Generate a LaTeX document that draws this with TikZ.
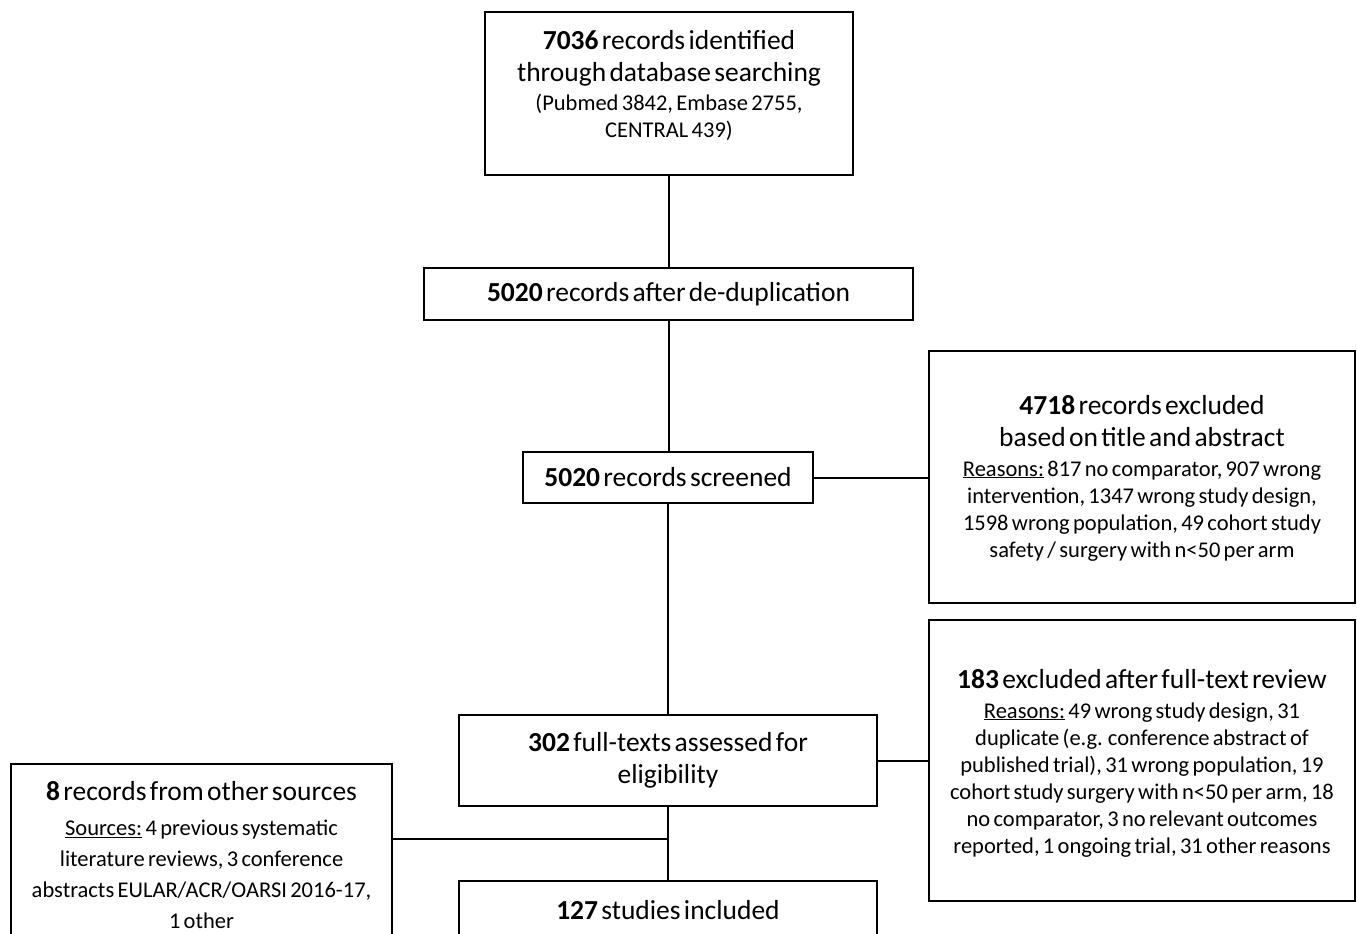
\documentclass[tikz,border=0pt]{standalone}
\usepackage{fontspec}
\setmainfont{Carlito}
\newcommand\pbig{\fontsize{27.5}{32}\selectfont}
\newcommand\psmall{\fontsize{22.5}{27}\selectfont}
\newcommand\psmallw{\fontsize{22.5}{31}\selectfont}
\begin{document}
\begin{tikzpicture}[x=1pt,y=-1pt]
\tikzset{
  box/.style={draw, line width=2pt, inner sep=0pt, align=center, fill=white},
  conn/.style={draw, line width=2pt}
}
\useasboundingbox (0,0) rectangle (1357,934);
\begin{scope}
\clip (0,0) rectangle (1357,934);
\node[box, minimum width=368pt, minimum height=163pt, text width=364pt, text depth=108pt] (top) at (669,93.5)
  {{\pbig\textbf{7036} records identified\\through database searching\par}\vspace{2pt}{\psmall(Pubmed 3842, Embase 2755,\\CENTRAL 439)\par}};
\node[box, minimum width=489pt, minimum height=52pt, text width=485pt] (dedup) at (668.5,294)
  {\pbig\textbf{5020} records after de-duplication\par};
\node[box, minimum width=290pt, minimum height=51pt, text width=286pt] (screened) at (668,477.5)
  {\pbig\textbf{5020} records screened\par};
\node[box, minimum width=426pt, minimum height=252pt, text width=422pt, text depth=145pt] (excl1) at (1142,477)
  {{\pbig\textbf{4718} records excluded\\based on title and abstract\par}\vspace{3pt}{\psmall\underline{Reasons:} 817 no comparator, 907 wrong\\intervention, 1347 wrong study design,\\1598 wrong population, 49 cohort study\\safety / surgery with n<50 per arm\par}};
\node[box, minimum width=418pt, minimum height=91pt, text width=414pt] (full) at (668,760.5)
  {\pbig\textbf{302} full-texts assessed for\\eligibility\par};
\node[box, minimum width=426pt, minimum height=281pt, text width=422pt, text depth=164pt] (excl2) at (1142,760.5)
  {{\pbig\textbf{183} excluded after full-text review\par}\vspace{3pt}{\psmall\underline{Reasons:} 49 wrong study design, 31\\duplicate (e.g. conference abstract of\\published trial), 31 wrong population, 19\\cohort study surgery with n<50 per arm, 18\\no comparator, 3 no relevant outcomes\\reported, 1 ongoing trial, 31 other reasons\par}};
\node[box, minimum width=381pt, minimum height=182pt, text width=377pt] (other) at (201.5,855)
  {{\pbig\textbf{8} records from other sources\par}\vspace{4pt}{\psmallw\underline{Sources:} 4 previous systematic\\literature reviews, 3 conference\\abstracts EULAR/ACR/OARSI 2016-17,\\1 other\par}};
\node[box, minimum width=418pt, minimum height=58pt, text width=414pt] (incl) at (668,910)
  {\pbig\textbf{127} studies included\par};
\path (full.south) ++(0,32) coordinate (j);
\draw[conn] (top.south) -- (top.south |- dedup.north);
\draw[conn] (dedup.south) -- (dedup.south |- screened.north);
\draw[conn] (screened.south) -- (screened.south |- full.north);
\draw[conn] (full.south) -- (full.south |- incl.north);
\draw[conn] (screened.east) -- (screened.east -| excl1.west);
\draw[conn] (full.east) -- (full.east -| excl2.west);
\draw[conn] (other.east |- j) -- (j);
\end{scope}
\end{tikzpicture}
\end{document}
